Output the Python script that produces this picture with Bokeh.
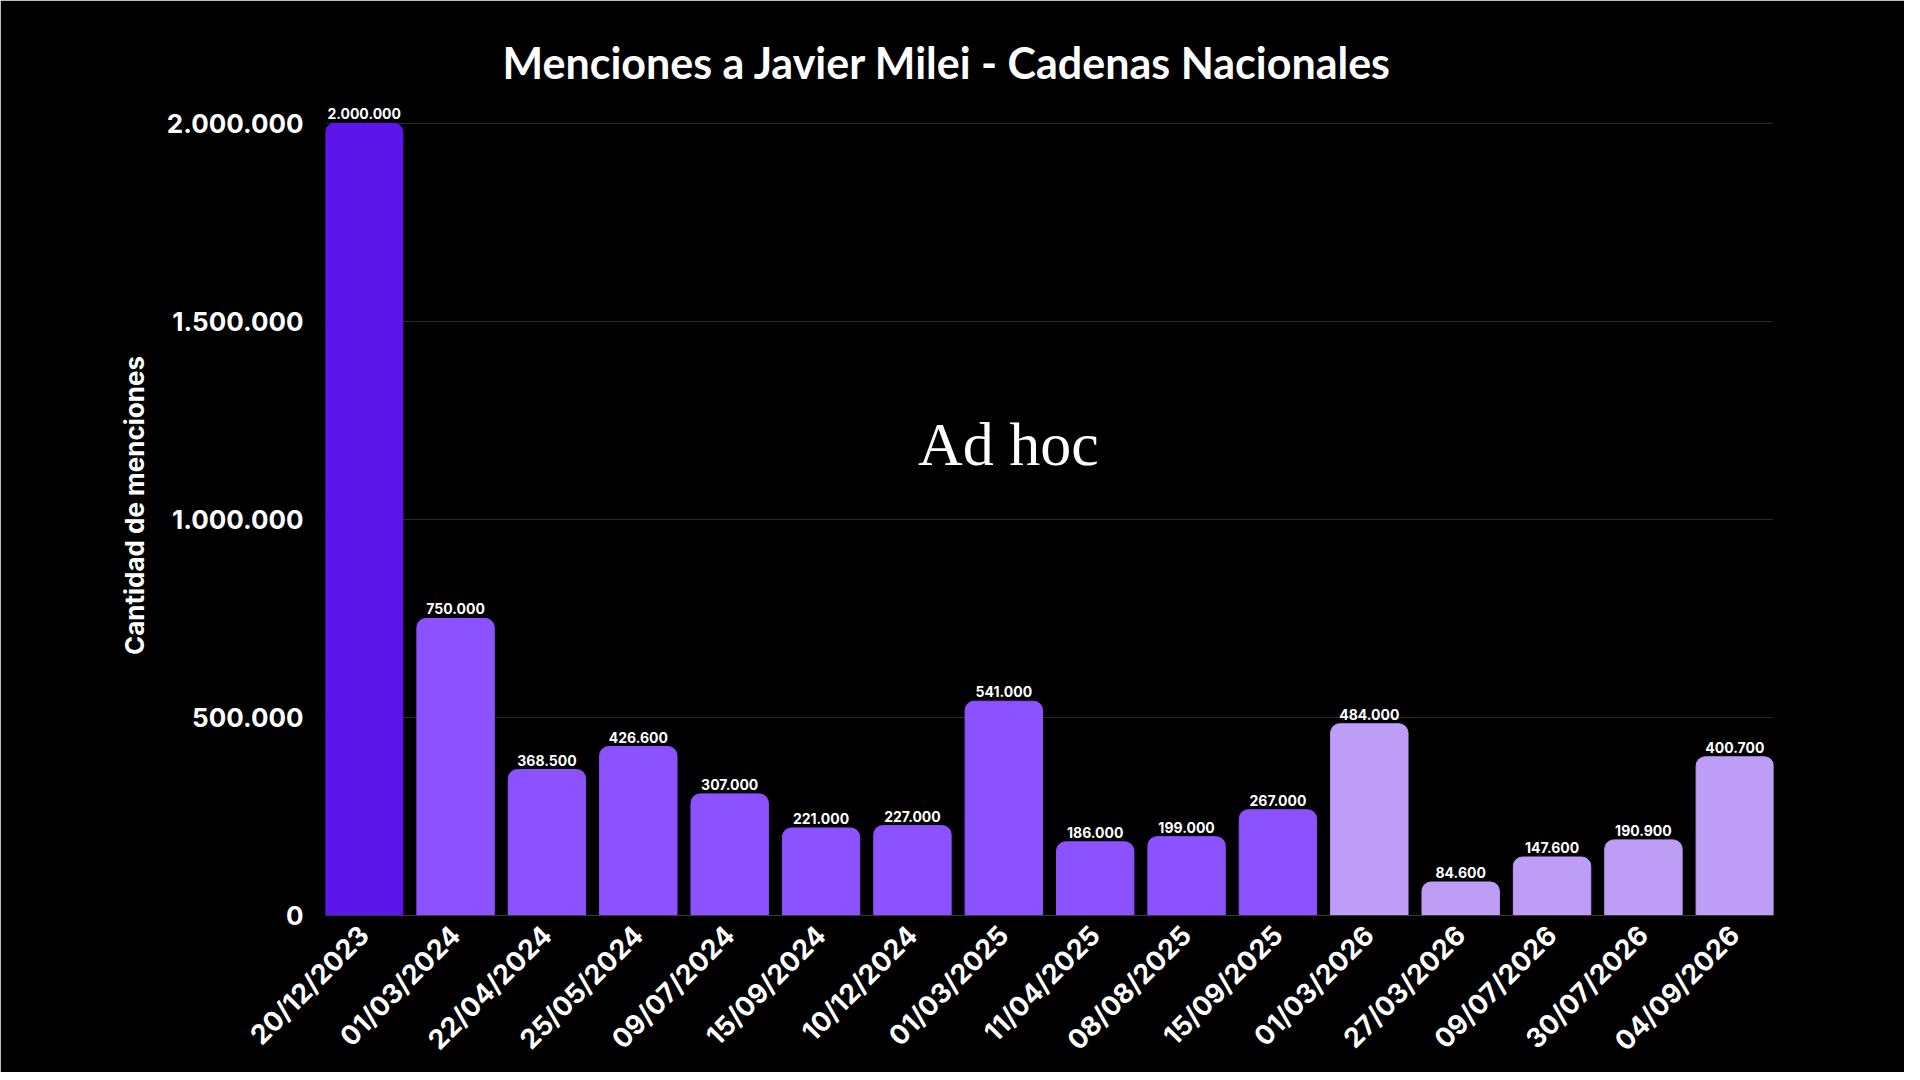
from bokeh.plotting import figure
from bokeh.models import Range1d, FixedTicker, ColumnDataSource, Label
from bokeh.core.properties import value
from bokeh.embed import file_html
from bokeh.resources import INLINE

dates = ["20/12/2023", "01/03/2024", "22/04/2024", "25/05/2024", "09/07/2024",
         "15/09/2024", "10/12/2024", "01/03/2025", "11/04/2025", "08/08/2025",
         "15/09/2025", "01/03/2026", "27/03/2026", "09/07/2026", "30/07/2026",
         "04/09/2026"]
mentions = [2000000, 750000, 368500, 426600, 307000, 221000, 227000, 541000,
            186000, 199000, 267000, 484000, 84600, 147600, 190900, 400700]
colors = ["#5C16E9"] + ["#8C52FF"] * 10 + ["#BE9DF6"] * 5
y_ticks = [0, 500000, 1000000, 1500000, 2000000]


def fmt(v):
    return f"{v:,}".replace(",", ".")


W = 0.847
xs = list(range(len(dates)))
src = ColumnDataSource(dict(x=xs, top=mentions, color=colors,
                            label=[fmt(v) for v in mentions]))

p = figure(width=1904, height=1072, output_backend="svg", toolbar_location=None,
           x_range=Range1d(-W / 2, len(dates) - 1 + W / 2),
           y_range=Range1d(0, 2070000),
           min_border_left=325, min_border_right=131,
           min_border_top=95, min_border_bottom=157)
p.background_fill_color = "#000000"
p.border_fill_color = "#000000"
p.outline_line_color = "#000000"
p.outline_line_width = 2

p.title.text = "Menciones a Javier Milei - Cadenas Nacionales"
p.title.align = "left"
p.title.offset = 177
p.title.text_color = "white"
p.title.text_font = "Lato"
p.title.text_font_style = "bold"
p.title.text_font_size = "43px"
p.title.standoff = 16

p.vbar(x="x", top="top", width=W, color="color", source=src,
       border_radius=(9, 9, 0, 0))
p.text(x="x", y="top", text="label", source=src, text_align="center",
       text_baseline="bottom", y_offset=-4, text_color="white",
       text_font=value("Inter"), text_font_style="bold", text_font_size="14px")

# y axis
p.yaxis.ticker = FixedTicker(ticks=y_ticks)
p.yaxis.major_label_overrides = {t: fmt(t) for t in y_ticks}
p.yaxis.major_label_text_color = "white"
p.yaxis.major_label_text_font = "Inter"
p.yaxis.major_label_text_font_style = "bold"
p.yaxis.major_label_text_font_size = "26px"
p.yaxis.major_label_standoff = 16
p.yaxis.axis_line_color = None
p.yaxis.major_tick_line_color = None
p.yaxis.minor_tick_line_color = None
p.yaxis.axis_label = "Cantidad de menciones"
p.yaxis.axis_label_text_color = "white"
p.yaxis.axis_label_text_font = "Inter"
p.yaxis.axis_label_text_font_style = "bold"
p.yaxis.axis_label_text_font_size = "26px"
p.yaxis.axis_label_standoff = 14

# x axis
p.xaxis.ticker = FixedTicker(ticks=xs)
p.xaxis.major_label_overrides = {i: d for i, d in zip(xs, dates)}
p.xaxis.major_label_orientation = 0.785398
p.xaxis.major_label_text_color = "white"
p.xaxis.major_label_text_font = "Inter"
p.xaxis.major_label_text_font_style = "bold"
p.xaxis.major_label_text_font_size = "27px"
p.xaxis.major_label_standoff = 9
p.xaxis.axis_line_color = "#3a3a3a"
p.xaxis.major_tick_line_color = None
p.xaxis.minor_tick_line_color = None

p.xgrid.grid_line_color = None
p.ygrid.grid_line_color = "#2a2a2a"
p.ygrid.grid_line_width = 1

# watermark
p.add_layout(Label(x=7.05, y=1190000, text="Ad hoc", text_align="center",
                   text_baseline="middle", text_color="white",
                   text_font="Liberation Serif", text_font_size="62px"))

open("out.html", "w").write(file_html(p, INLINE))
